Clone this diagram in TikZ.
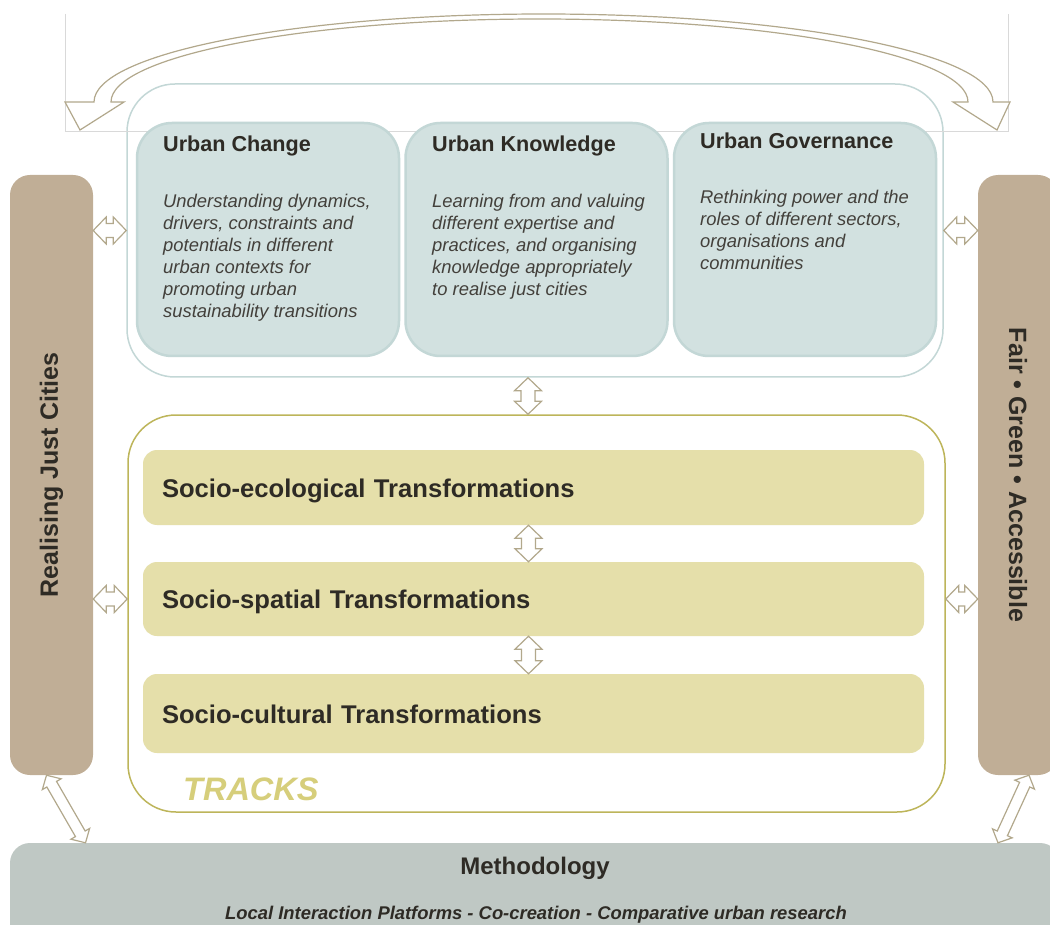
\documentclass[tikz,border=0pt]{standalone}
\usepackage{fontspec}
\setmainfont{Liberation Sans}
\usetikzlibrary{calc}

\definecolor{taupe}{HTML}{C0AE96}
\definecolor{arrline}{HTML}{B2A88C}
\definecolor{pale}{HTML}{D2E1E0}
\definecolor{paleline}{HTML}{C3D7D6}
\definecolor{olive}{HTML}{BDB55A}
\definecolor{sand}{HTML}{E5DFAA}
\definecolor{slate}{HTML}{BFC8C4}
\definecolor{ink}{HTML}{2E2B25}
\definecolor{trackink}{HTML}{D6CE7B}
\definecolor{framegray}{HTML}{D9D9D9}

% hollow two-headed block arrow from #2 to #3, #1 scales the head
\newcommand{\dblarrow}[3][1]{%
\draw[blockarr] (#2)
 --($(#2)!#1*13pt!(#3)!#1*13.5pt!90:(#3)$)
 --($(#2)!#1*13pt!(#3)!#1*7pt!90:(#3)$)
 --($(#3)!#1*13pt!(#2)!#1*7pt!-90:(#2)$)
 --($(#3)!#1*13pt!(#2)!#1*13.5pt!-90:(#2)$)
 --(#3)
 --($(#3)!#1*13pt!(#2)!#1*13.5pt!90:(#2)$)
 --($(#3)!#1*13pt!(#2)!#1*7pt!90:(#2)$)
 --($(#2)!#1*13pt!(#3)!#1*7pt!-90:(#3)$)
 --($(#2)!#1*13pt!(#3)!#1*13.5pt!-90:(#3)$)
 --cycle;}

\begin{document}
\begin{tikzpicture}[x=1pt,y=-1pt,
every node/.style={inner sep=0pt,text=ink},
sidebar/.style={fill=taupe,rounded corners=20pt,minimum height=600},
sidetext/.style={font=\fontsize{25}{30}\selectfont\bfseries},
container/.style={fill=white,line width=1.5pt,rounded corners=48pt},
topic/.style={fill=pale,draw=paleline,line width=2.5pt,rounded corners=35pt,
minimum width=262,minimum height=233},
topichead/.style={anchor=base west,font=\fontsize{21.6}{26}\selectfont\bfseries},
topictext/.style={anchor=north west,align=left,text=ink!90,
font=\fontsize{18.4}{22}\selectfont\itshape},
track/.style={fill=sand,rounded corners=14pt,text width=743,inner xsep=19pt,
align=left,text height=19,text depth=0,font=\fontsize{25.6}{30}\selectfont\bfseries},
blockarr/.style={draw=arrline,fill=white,line width=1.2pt}
]
\useasboundingbox (0,0) rectangle (1050,925);

\node[sidebar,minimum width=83]at(51.5,475)(lbar){};
\node[sidetext,rotate=90]at(lbar)(ltext){Realising Just Cities};
\node[sidebar,minimum width=80]at(1018,475)(rbar){};
\node[sidetext,rotate=-90]at(rbar)(rtext){Fair • Green • Accessible};
\node[fill=slate,rounded corners=20pt,minimum width=1050,minimum height=117]at(535,901.5)(meth){};
\node[font=\fontsize{24}{28}\selectfont\bfseries]at(535,868)(methtitle){Methodology};
\node[font=\fontsize{18.4}{22}\selectfont\bfseries\itshape]at(536,915)(methsub){Local Interaction Platforms - Co-creation - Comparative urban research};

\node[container,draw=paleline,minimum width=816,minimum height=293]at(535,230.5)(topc){};
\draw[framegray,line width=0.8pt] (65,14)--(65,131)--(1008,131)--(1008,14);
\node[topic]at(268,239.5)(uc){};
\node[topic]at(536.5,239.5)(uk){};
\node[topic]at(805,239.5)(ug){};
\node[topichead]at(163,152)(uchead){Urban Change};
\node[topichead]at(432,152)(ukhead){Urban Knowledge};
\node[topichead]at(700,149)(ughead){Urban Governance};
\node[topictext]at(163,194)(uctext){Understanding dynamics,\\drivers, constraints and\\potentials in different\\urban contexts for\\promoting urban\\sustainability transitions};
\node[topictext]at(432,194)(uktext){Learning from and valuing\\different expertise and\\practices, and organising\\knowledge appropriately\\to realise just cities};
\node[topictext]at(700,190)(ugtext){Rethinking power and the\\roles of different sectors,\\organisations and\\communities};

\node[container,draw=olive,minimum width=817,minimum height=397]at(536.5,613.5)(tracks){};
\node[track,minimum height=75]at(533.5,487.5)(eco){Socio-ecological Transformations};
\node[track,minimum height=74]at(533.5,599)(spatial){Socio-spatial Transformations};
\node[track,minimum height=79]at(533.5,713.5)(cultural){Socio-cultural Transformations};
\node[anchor=base west,text=trackink,font=\fontsize{32.5}{38}\selectfont\bfseries\itshape]at(183,800)(tracklabel){TRACKS};

% curved arrow over the top row
\draw[blockarr] (80,130)--(124,102)--(111,102)
 arc[start angle=180,end angle=360,x radius=428.5,y radius=83]
 --(953,102)--(997,130)--(1010,102)--(993,102)
 arc[start angle=360,end angle=180,x radius=449.5,y radius=88]
 --(65,102)--cycle;

\coordinate (v1) at ([xshift=-7pt]topc.south);
\coordinate (v2) at ([xshift=-5pt]eco.south);
\coordinate (v3) at ([xshift=-5pt]spatial.south);
\coordinate (d1) at ([xshift=-5pt]lbar.south);
\coordinate (d2) at ([xshift=34pt]lbar.south|-meth.north);
\coordinate (d3) at ([xshift=11pt]rbar.south);
\coordinate (d4) at ([xshift=-20pt]rbar.south|-meth.north);
\dblarrow{lbar.east|-topc.west}{topc.west}
\dblarrow{lbar.east|-spatial.west}{tracks.west|-spatial.west}
\dblarrow{topc.east}{rbar.west|-topc.east}
\dblarrow{tracks.east|-spatial.east}{rbar.west|-spatial.east}
\dblarrow{v1}{v1|-tracks.north}
\dblarrow{v2}{v2|-spatial.north}
\dblarrow{v3}{v3|-cultural.north}
\dblarrow[0.8]{d1}{d2}
\dblarrow[0.8]{d3}{d4}
\end{tikzpicture}
\end{document}
